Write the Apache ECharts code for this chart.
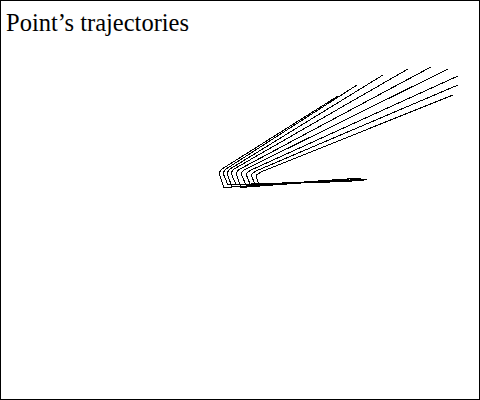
<!DOCTYPE html>
<html>
<head>
<meta charset="utf-8">
<script src="https://cdn.jsdelivr.net/npm/echarts@6/dist/echarts.min.js"></script>
<style>
html,body{margin:0;padding:0;background:#fff;}
#c{width:480px;height:400px;}
#c svg path{shape-rendering:crispEdges;}
</style>
</head>
<body>
<div id="c"></div>
<script>
// Trajectory key points (x to the right, y upward), one entry per trajectory
var startX  = [367, 364, 361, 358, 355, 352, 349, 346, 343];
var startY  = [221, 220, 222, 219.5, 221.5, 219, 220.5, 218.5, 220];
var bottomX = [224, 228, 232, 236, 241, 246, 251, 255, 259];
var bottomY = [212.5, 215, 213, 215.5, 212.5, 215, 213.5, 215.5, 214];
var kinkX   = [219, 223, 227, 231, 236, 241, 246, 251, 256];
var kinkY   = [227, 227, 227, 227, 227, 226.5, 226, 225.5, 225];
var bendX   = [222, 226, 230, 234, 239, 244, 250, 256, 262];
var bendY   = [231, 231, 231, 231, 230.5, 230, 229.5, 229, 228.5];
var endX    = [338, 357, 383, 408, 431, 448, 458, 458, 453];
var endY    = [304, 315, 325, 331, 333, 331, 324, 315, 305];

var series = [];
for (var i = 0; i < endX.length; i++) {
  series.push({
    type: 'line',
    data: [[startX[i], startY[i]], [bottomX[i], bottomY[i]], [kinkX[i], kinkY[i]], [bendX[i], bendY[i]], [endX[i], endY[i]]],
    symbol: 'none',
    lineStyle: {color: '#000', width: 1},
    silent: true
  });
}

var chart = echarts.init(document.getElementById('c'), null, {renderer: 'svg'});
chart.setOption({
  animation: false,
  backgroundColor: '#fff',
  title: {
    text: 'Point\u2019s trajectories',
    left: 6, top: 10, padding: 0,
    textStyle: {fontFamily: 'Liberation Serif', fontSize: 24.5, fontWeight: 'normal', color: '#000'}
  },
  grid: {left: 0, right: 0, top: 0, bottom: 0},
  xAxis: {type: 'value', min: 0, max: 480, show: false},
  yAxis: {type: 'value', min: 0, max: 400, show: false},
  graphic: [{
    type: 'rect',
    shape: {x: 0.5, y: 0.5, width: 479, height: 399},
    style: {fill: 'none', stroke: '#000', lineWidth: 1},
    silent: true
  }],
  series: series
});
</script>
</body>
</html>
